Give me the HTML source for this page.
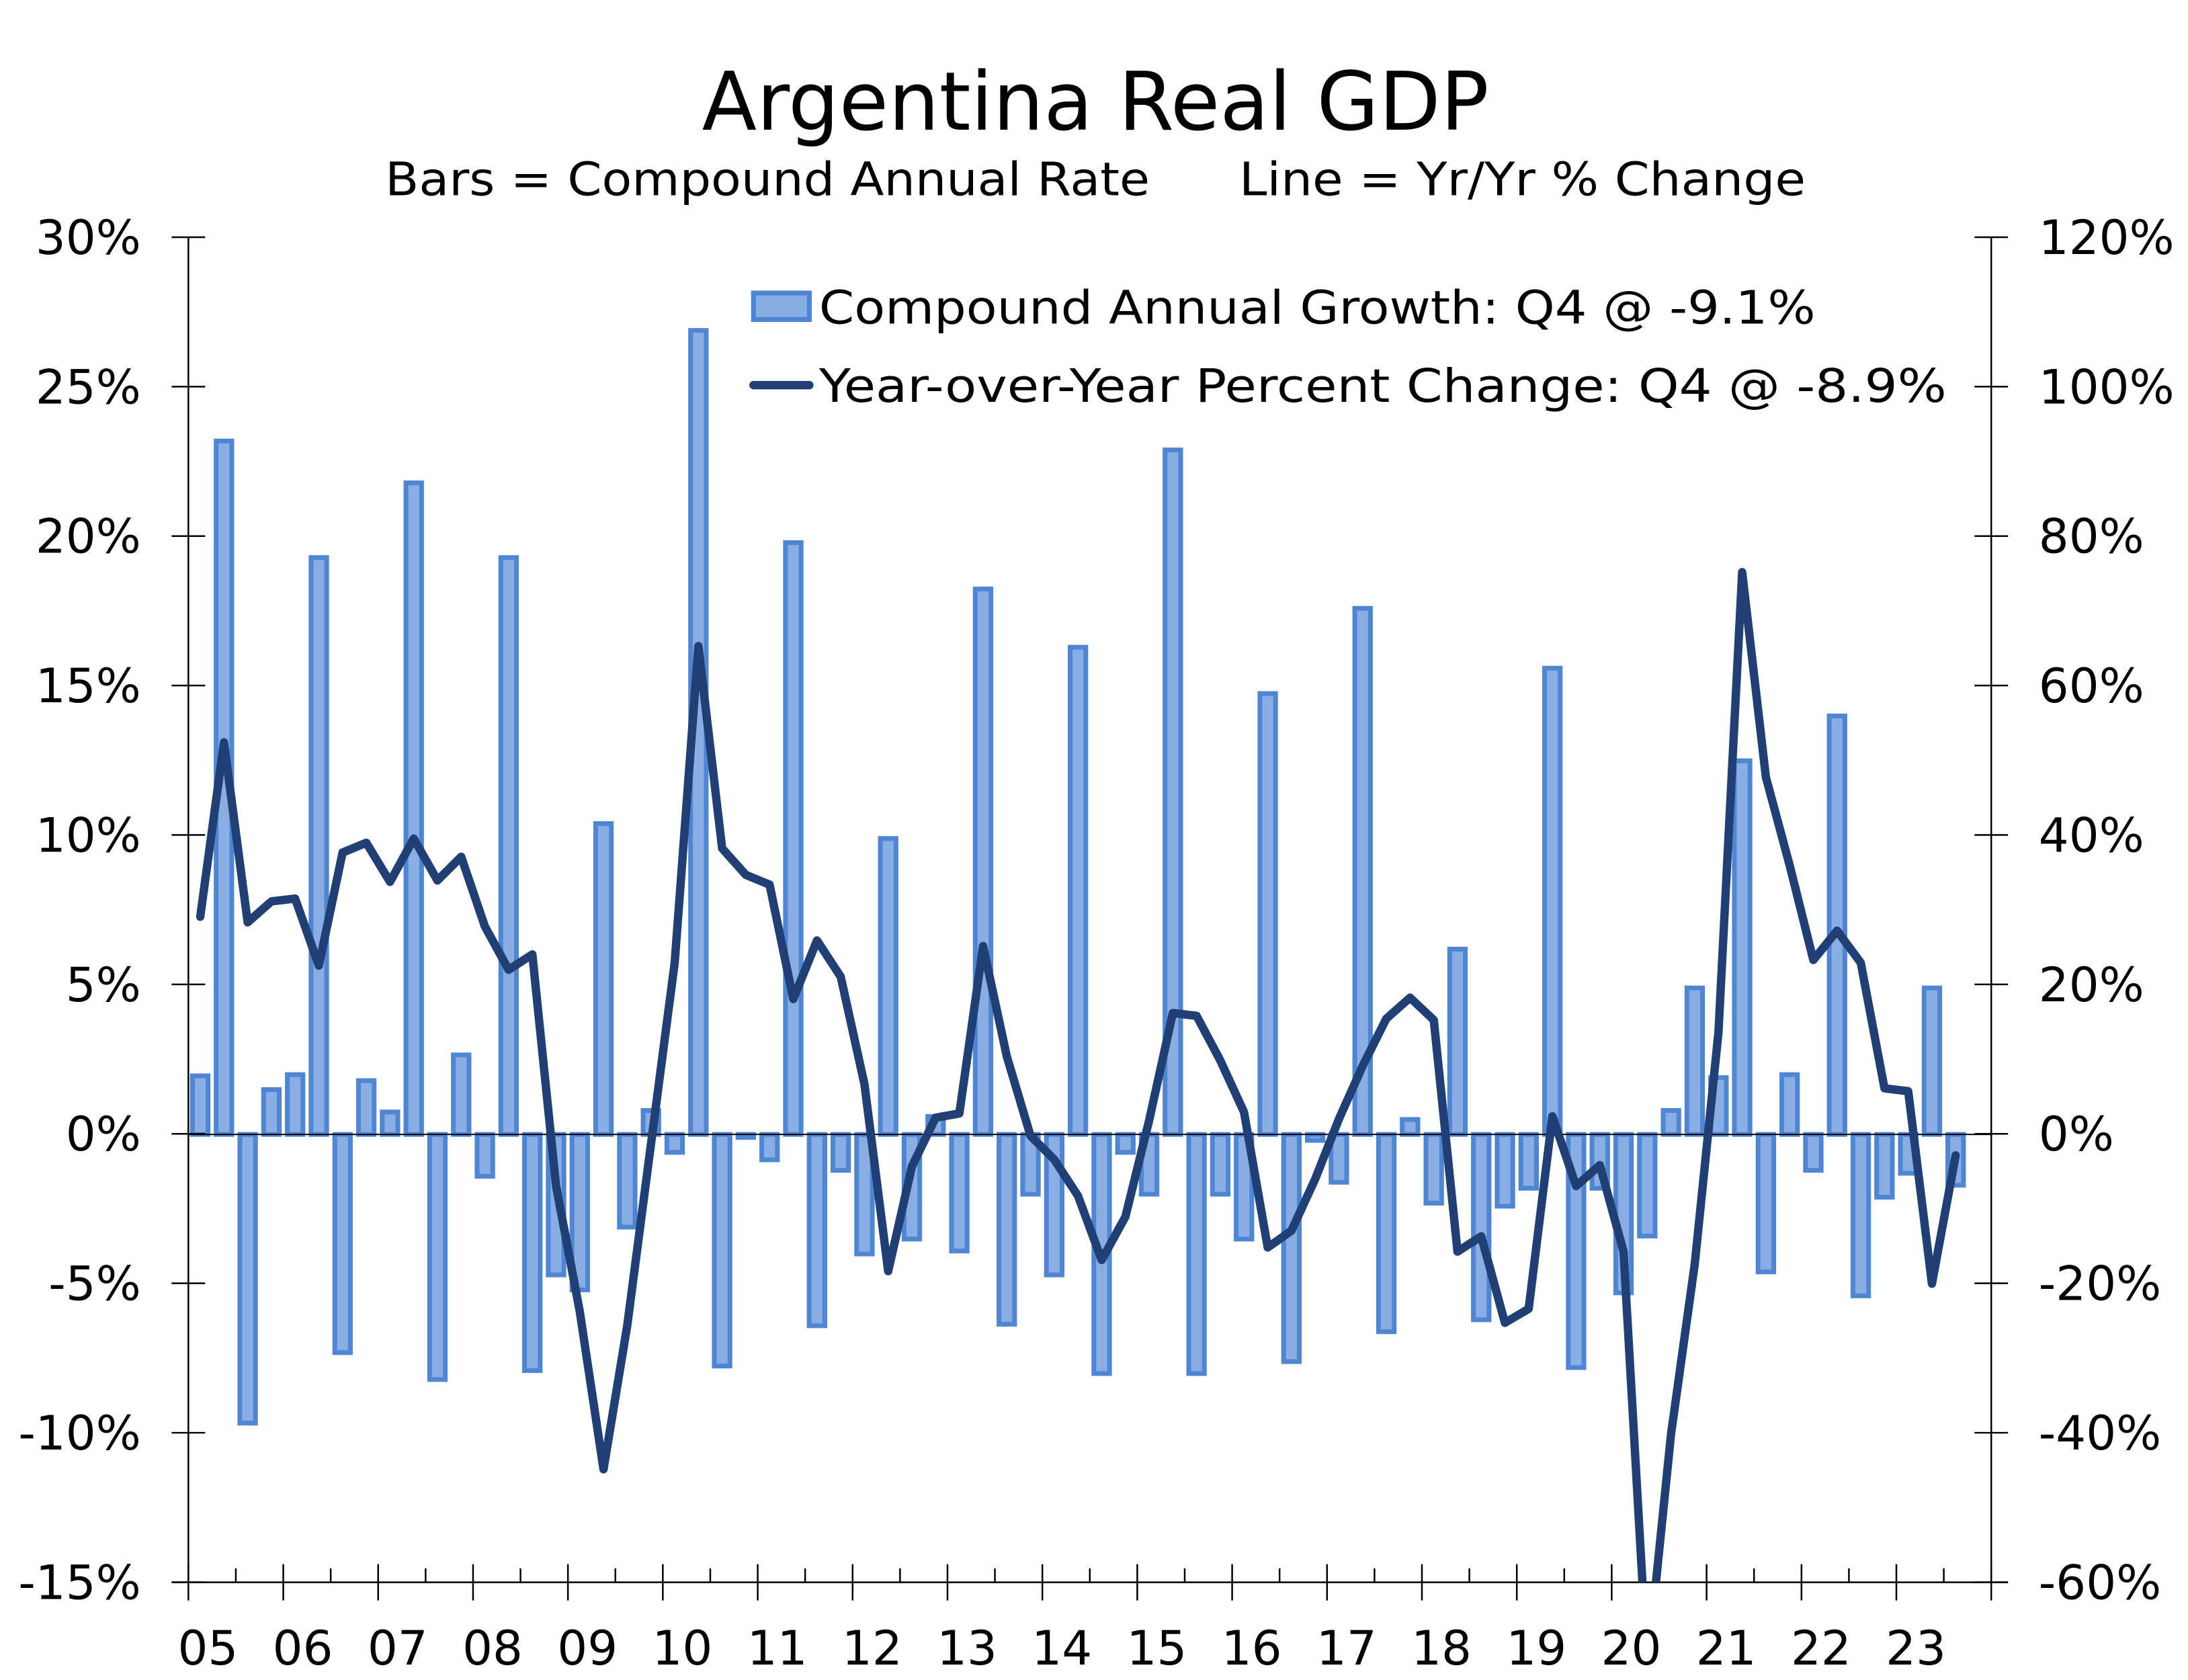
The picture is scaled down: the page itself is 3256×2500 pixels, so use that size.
<!DOCTYPE html>
<html><head><meta charset="utf-8"><style>
html,body{margin:0;padding:0;background:#fff;width:3256px;height:2500px;overflow:hidden;position:relative;}
svg{display:block;position:absolute;left:0;top:0;}
text{font-family:"DejaVu Sans","Liberation Sans",sans-serif;fill:#000;}
</style></head><body>
<svg id="c" xmlns="http://www.w3.org/2000/svg" width="3256" height="2500" viewBox="0 0 1568 1204" preserveAspectRatio="none">
<defs><clipPath id="pc"><rect x="135" y="170" width="1292" height="964"/></clipPath></defs>
<rect x="0" y="0" width="1568" height="1204" fill="#fff"/>
<text x="785" y="93" font-size="58" text-anchor="middle" textLength="564" lengthAdjust="spacingAndGlyphs">Argentina Real GDP</text>
<text x="276" y="140" font-size="33" textLength="548" lengthAdjust="spacingAndGlyphs">Bars = Compound Annual Rate</text>
<text x="888" y="140" font-size="33" textLength="406" lengthAdjust="spacingAndGlyphs">Line = Yr/Yr % Change</text>
<g id="bars" clip-path="url(#pc)"></g>
<line x1="135" y1="813" x2="1427" y2="813" stroke="#000" stroke-width="1"/>
<g id="axes" stroke="#000" stroke-width="1.2"></g>
<polyline id="ln" clip-path="url(#pc)" fill="none" stroke="#1f3f75" stroke-width="6" stroke-linejoin="round" stroke-linecap="round"/>
<g id="labels"></g>
<rect x="540" y="210" width="40" height="19" fill="#8aaee3" stroke="#4f86d4" stroke-width="3.5"/>
<text x="587" y="232" font-size="33" textLength="714" lengthAdjust="spacingAndGlyphs">Compound Annual Growth: Q4 @ -9.1%</text>
<line x1="540" y1="276" x2="580" y2="276" stroke="#1f3f75" stroke-width="6" stroke-linecap="round"/>
<text x="587" y="288" font-size="33" textLength="808" lengthAdjust="spacingAndGlyphs">Year-over-Year Percent Change: Q4 @ -8.9%</text>
</svg>
<script>
var NS="http://www.w3.org/2000/svg";
function el(p,t,a){var e=document.createElementNS(NS,t);for(var k in a)e.setAttribute(k,a[k]);p.appendChild(e);return e;}
var bars=[1.96,23.2,-9.66,1.5,2.0,19.3,-7.3,1.8,0.75,21.8,-8.2,2.66,-1.4,19.3,-7.9,-4.7,-5.2,10.4,-3.1,0.8,-0.6,26.9,-7.75,-0.1,-0.85,19.8,-6.4,-1.2,-4.0,9.9,-3.5,0.6,-3.9,18.25,-6.35,-2.0,-4.7,16.3,-8.0,-0.6,-2.0,22.9,-8.0,-2.0,-3.5,14.75,-7.6,-0.2,-1.6,17.6,-6.6,0.5,-2.3,6.2,-6.2,-2.4,-1.8,15.6,-7.8,-1.8,-5.3,-3.4,0.8,4.9,1.9,12.5,-4.6,2.0,-1.2,14.0,-5.4,-2.1,-1.3,4.9,-1.7];
var ly=[657,532,661,646,644,692,611,604,632,601,631,614,664,695,684,850,940,1053,950,820,690,463,608,627,634,716,674,700,777,911,836,801,798,678,757,814,831,857,903,872,803,726,728,760,797,894,882,845,802,764,730,715,731,897,886,948,938,800,850,835,897,1195,1028,906,740,410,557,620,688,667,690,780,782,920,828];
var g=document.getElementById('bars');
for(var i=0;i<bars.length;i++){
 var cx=135+17*(i+0.5), y=813-bars[i]*21.42, t=Math.min(y,813), h=Math.abs(813-y);
 el(g,'rect',{x:cx-5.6,y:t,width:11.2,height:Math.max(h,0.5),fill:'#8aaee3',stroke:'#4f86d4','stroke-width':3.4});
}
var pts=[];for(var i=0;i<ly.length;i++)pts.push((135+17*(i+0.5))+','+ly[i]);
document.getElementById('ln').setAttribute('points',pts.join(' '));
var a=document.getElementById('axes');
el(a,'line',{x1:135,y1:170,x2:135,y2:1134});
el(a,'line',{x1:1427,y1:170,x2:1427,y2:1134});
el(a,'line',{x1:123,y1:1134,x2:1439,y2:1134});
var L=document.getElementById('labels');
var ll=['30%','25%','20%','15%','10%','5%','0%','-5%','-10%','-15%'];
var rl=['120%','100%','80%','60%','40%','20%','0%','-20%','-40%','-60%'];
for(var k=0;k<10;k++){
 var y=170+k*107.1;
 el(a,'line',{x1:123,y1:y,x2:147,y2:y});
 el(a,'line',{x1:1415,y1:y,x2:1439,y2:y});
 var t1=el(L,'text',{x:101,y:y+12,'font-size':34,'text-anchor':'end'});t1.textContent=ll[k];
 var t2=el(L,'text',{x:1461,y:y+12,'font-size':34});t2.textContent=rl[k];
}
for(var yr=0;yr<=19;yr++){
 var x=135+68*yr;
 el(a,'line',{x1:x,y1:1121,x2:x,y2:1147});
 if(yr<19){el(a,'line',{x1:x+34,y1:1124,x2:x+34,y2:1134});
 var t=el(L,'text',{x:x+14,y:1193,'font-size':34,'text-anchor':'middle'});t.textContent=('0'+(5+yr)).slice(-2);}
}
</script>
</body></html>
